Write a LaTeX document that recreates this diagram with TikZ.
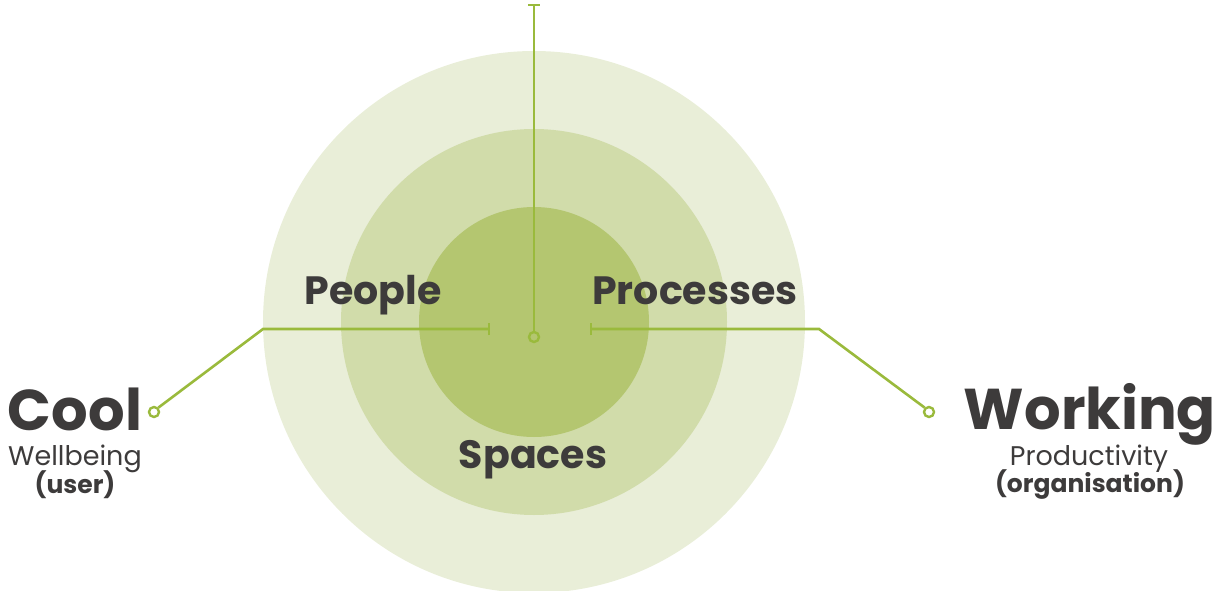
\documentclass[tikz,border=0pt]{standalone}
\usepackage{fontspec}
\setmainfont{Poppins}
\definecolor{ringA}{HTML}{E9EED8}
\definecolor{ringB}{HTML}{D1DCAA}
\definecolor{ringC}{HTML}{B4C670}
\definecolor{linegreen}{HTML}{9ABA3C}
\definecolor{txt}{HTML}{3D3B3B}
\tikzset{
  conn/.style={draw=linegreen, line width=2.6pt},
  marker/.style={circle, draw=linegreen, line width=2.4pt, minimum size=10pt, inner sep=0pt},
  big/.style={anchor=base, text=txt, font=\bfseries\fontsize{57.5}{57.5}\selectfont, inner sep=0pt},
  mid/.style={anchor=base, text=txt, font=\bfseries\fontsize{39.5}{39.5}\selectfont, inner sep=0pt},
  sub/.style={anchor=base, text=txt, font=\fontsize{27}{27}\selectfont, inner sep=0pt},
  subb/.style={anchor=base, text=txt, font=\bfseries\fontsize{25}{25}\selectfont, inner sep=0pt},
}
\begin{document}
\begin{tikzpicture}[x=1pt, y=-1pt]
\useasboundingbox (0,0) rectangle (1216,591);
% rings
\fill[ringA] (534,322) circle (271);
\fill[ringB] (534,322) circle (193);
\fill[ringC] (534,322) circle (115);
% markers and coordinates
\node[marker] (mc) at (534,337) {};
\node[marker] (ml) at (154,412) {};
\node[marker] (mr) at (929,412) {};
\coordinate (top) at (534,5);
\coordinate (lt) at (489,329);
\coordinate (lc) at (263,329);
\coordinate (rt) at (591,329);
\coordinate (rc) at (819,329);
% connectors
\draw[conn] (top) -- (mc.north);
\draw[conn] ([xshift=-6pt]top) -- ([xshift=6pt]top);
\draw[conn] (lt) -- (lc) -- (ml.north east);
\draw[conn] ([yshift=-6pt]lt) -- ([yshift=6pt]lt);
\draw[conn] (rt) -- (rc) -- (mr.north west);
\draw[conn] ([yshift=-6pt]rt) -- ([yshift=6pt]rt);
% labels
\node[mid] (people) at (373,304) {People};
\node[mid] (proc) at (695,304) {Processes};
\node[mid] (spaces) at (533,468) {Spaces};
\node[big] (cool) at (75,430) {Cool};
\node[sub] (well) at (75,465) {Wellbeing};
\node[subb] (user) at (75,493) {(user)};
\node[big] (work) at (1090,429) {Working};
\node[sub] (prod) at (1089,465) {Productivity};
\node[subb] (org) at (1090,492) {(organisation)};
\end{tikzpicture}
\end{document}
